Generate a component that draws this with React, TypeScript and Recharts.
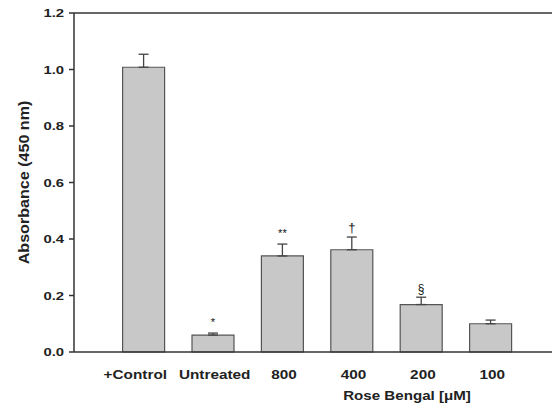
import React from 'react';
import { BarChart, Bar, XAxis, YAxis, ErrorBar, LabelList, ReferenceLine } from 'recharts';

const categories = ['+Control', 'Untreated', '800', '400', '200', '100'];
const means = [1.008, 0.06, 0.34, 0.362, 0.168, 0.1];
const errors = [0.046, 0.007, 0.042, 0.045, 0.026, 0.013];
const marks = ['', '*', '**', '†', '§', ''];
const yTicks = [0, 0.2, 0.4, 0.6, 0.8, 1.0, 1.2];

const data = categories.map((name, i) => ({
  name,
  mean: means[i],
  err: [0, errors[i]],
  mark: marks[i],
}));

const FONT = '"Liberation Sans", Arial, sans-serif';
const INK = '#222';

const XTick = ({ x, y, payload, index }: any) => {
  // the first two labels are nudged apart in the original
  const dx = index === 0 ? -8 : index === 1 ? 2 : 2;
  return (
    <g transform={`translate(${x + dx},${y})`}>
      <text transform="scale(1.18,1)" x={0} y={19} textAnchor="middle" fontFamily={FONT} fontWeight="bold" fontSize={13} fill={INK}>
        {payload.value}
      </text>
    </g>
  );
};

const YTick = ({ x, y, payload }: any) => (
  <g transform={`translate(${x - 3},${y})`}>
    <text transform="scale(1.35,1)" x={0} y={4} textAnchor="end" fontFamily={FONT} fontWeight="bold" fontSize={11} fill={INK}>
      {Number(payload.value).toFixed(1)}
    </text>
  </g>
);

const YTitle = ({ viewBox }: any) => (
  <text
    transform={`translate(24,${viewBox.y + viewBox.height / 2}) rotate(-90) scale(1.15,1)`}
    x={0}
    y={5}
    textAnchor="middle"
    fontFamily={FONT}
    fontWeight="bold"
    fontSize={14}
    fill={INK}
  >
    Absorbance (450 nm)
  </text>
);

const XTitle = ({ viewBox }: any) => (
  <text
    transform={`translate(${viewBox.x + 333},${viewBox.y + 48}) scale(1.12,1)`}
    x={0}
    y={0}
    textAnchor="middle"
    fontFamily={FONT}
    fontWeight="bold"
    fontSize={13.5}
    fill={INK}
  >
    Rose Bengal [μM]
  </text>
);

// significance marks sit just above the error whisker
const Mark = ({ x, y, width, height, value, index }: any) => {
  if (!value) return null;
  const errPx = (height * errors[index]) / means[index];
  const top = y - errPx;
  const star = value.indexOf('*') >= 0;
  const size = star ? 11 : value === '†' ? 13 : 12;
  const lift = star ? 7 : value === '†' ? 5 : 4;
  return (
    <text x={x + width / 2} y={top - lift} textAnchor="middle" fontFamily={FONT} fontSize={size} fill="#111" stroke="none">
      {value}
    </text>
  );
};

export default function App() {
  return (
    <div style={{ position: 'absolute', left: 0, top: 0, width: 552, height: 409, overflow: 'hidden', background: '#fff' }}>
      <BarChart width={560} height={409} data={data} margin={{ top: 13, right: 0, bottom: 0, left: 0 }}>
        <XAxis
          dataKey="name"
          height={57}
          padding={{ left: 34.6, right: 35 }}
          tickLine={false}
          stroke="#333"
          strokeWidth={1.5}
          tick={<XTick />}
          label={<XTitle />}
        />
        <YAxis
          width={74}
          domain={[0, 1.2]}
          ticks={yTicks}
          tickSize={5}
          stroke="#333"
          strokeWidth={1.5}
          tick={<YTick />}
          label={<YTitle />}
        />
        <ReferenceLine y={1.2} stroke="#333" strokeWidth={1.5} />
        <Bar dataKey="mean" fill="#c8c8c8" stroke="#555" strokeWidth={1.2} barSize={42} isAnimationActive={false}>
          <ErrorBar dataKey="err" width={5} stroke="#444" strokeWidth={1.3} direction="y" />
          <LabelList dataKey="mark" content={<Mark />} />
        </Bar>
      </BarChart>
    </div>
  );
}
